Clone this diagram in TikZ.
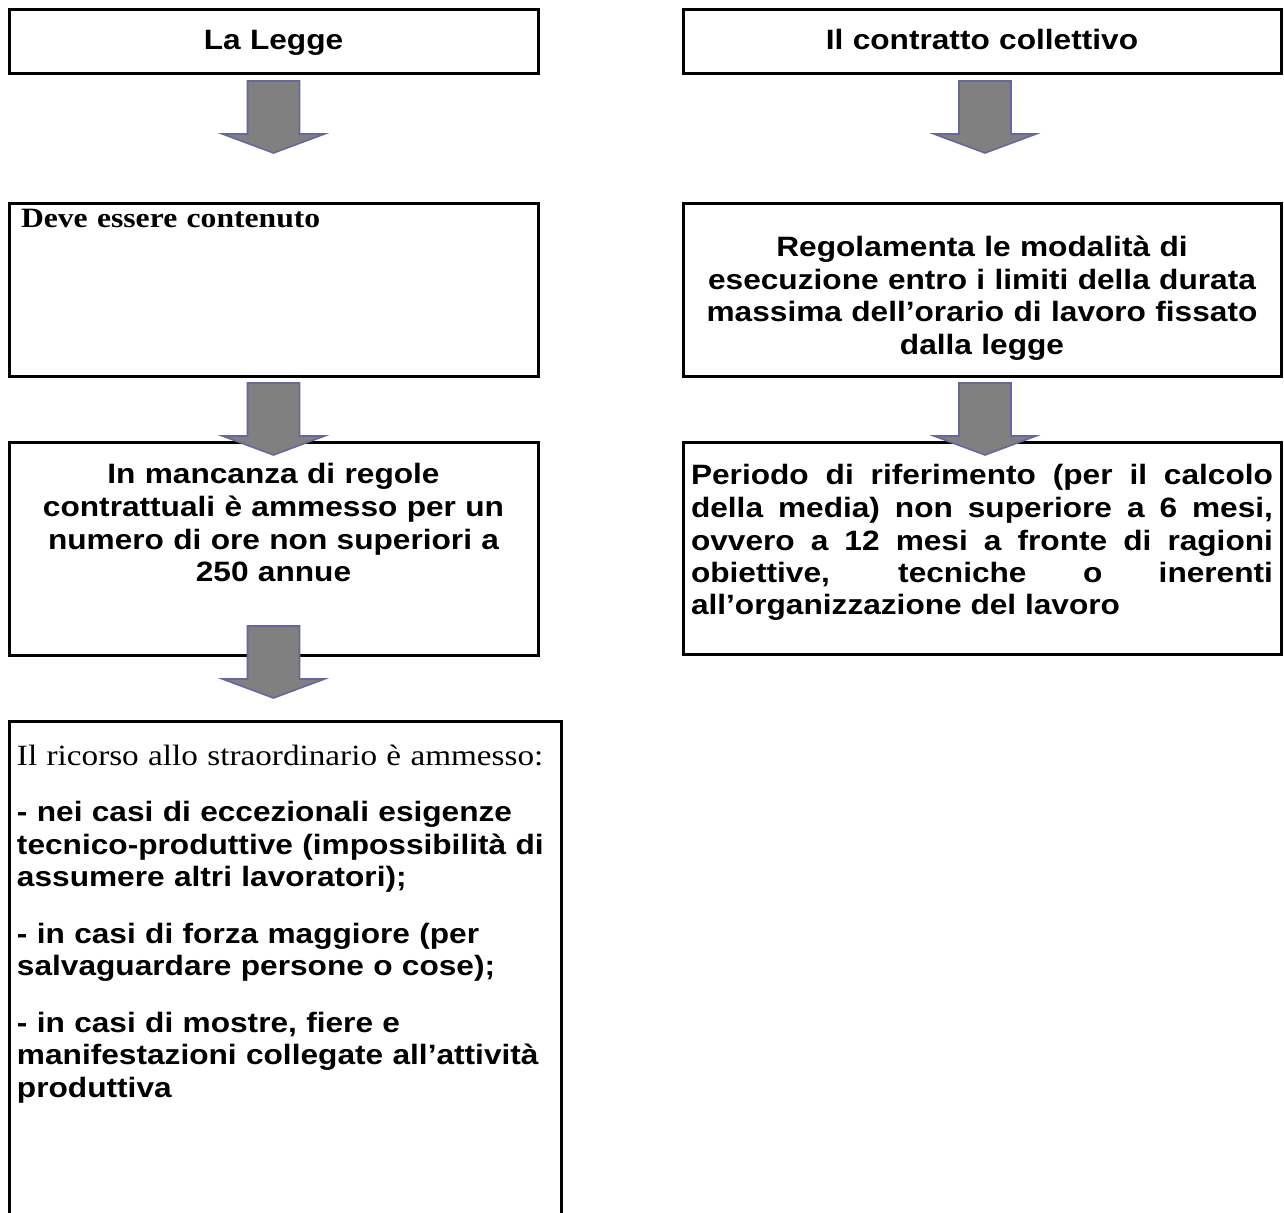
\documentclass[tikz,border=0pt]{standalone}
\usepackage{fontspec}
\setmainfont[FakeStretch=1.13]{Liberation Serif}
\setsansfont[FakeStretch=1.13]{Liberation Sans}
\usetikzlibrary{positioning}
\definecolor{arrowgray}{RGB}{128,128,128}
\definecolor{arrowline}{RGB}{102,102,160}
\tikzstyle{box} = [rectangle, draw, line width=1.5pt, anchor=north west, inner ysep=0pt,
    outer sep=0pt, font=\sffamily\bfseries\fontsize{14pt}{16.25pt}\selectfont]
\tikzstyle{bigarrow} = [draw=arrowline, fill=arrowgray, line width=0.8pt, line join=miter]

\begin{document}
\begin{tikzpicture}[x=1pt,y=1pt]
      \useasboundingbox (0,0) rectangle (642,-606.5);
      % colonna sinistra
      \node [box, minimum width=264.5pt, text width=256.5pt, inner xsep=4pt, align=center,
         text height=20pt, text depth=12pt] at (4.5,-5) (legge) {La Legge};
      \node [box, minimum width=264.5pt, text width=252.5pt, inner xsep=6pt, align=left,
         text height=12pt, text depth=74.5pt] at (4.5,-102) (contenuto) {\rmfamily Deve essere contenuto};
      \node [box, minimum width=264.5pt, text width=256.5pt, inner xsep=4pt, align=center,
         text height=20.5pt, text depth=85.5pt] at (4.5,-221.5) (mancanza) {In mancanza di regole\\
         contrattuali è ammesso per un\\ numero di ore non superiori a\\ 250 annue};
      \node [box, minimum width=276pt, text width=268pt, inner xsep=4pt, align=left,
         text height=22pt, text depth=233pt] at (4.5,-360.5) (ricorso) {{\rmfamily\mdseries\fontsize{14.7pt}{16.25pt}\selectfont Il ricorso allo straordinario è ammesso:}\\[12pt]
         - nei casi di eccezionali esigenze\\ tecnico-produttive (impossibilità di\\ assumere altri lavoratori);\\[12pt]
         - in casi di forza maggiore (per\\ salvaguardare persone o cose);\\[12pt]
         - in casi di mostre, fiere e\\ manifestazioni collegate all’attività\\ produttiva};

      % colonna destra
      \node [box, minimum width=299pt, text width=291pt, inner xsep=4pt, align=center,
         text height=20pt, text depth=12pt] at (341.5,-5) (contratto) {Il contratto collettivo};
      \node [box, minimum width=299pt, text width=291pt, inner xsep=4pt, align=center,
         text height=26.5pt, text depth=60pt] at (341.5,-102) (modalita) {Regolamenta le modalità di\\
         esecuzione entro i limiti della durata\\ massima dell’orario di lavoro fissato\\ dalla legge};
      \node [box, minimum width=299pt, text width=291pt, inner xsep=4pt, align=justify,
         text height=21pt, text depth=84.5pt] at (341.5,-221.5) (periodo) {Periodo di riferimento (per il calcolo\linebreak
         della media) non superiore a 6 mesi,\linebreak ovvero a 12 mesi a fronte di ragioni\linebreak
         obiettive, tecniche o inerenti\linebreak all’organizzazione del lavoro};

      \coordinate [below=3.5pt of legge] (f1);
      \coordinate [below=3pt of contenuto] (f2);
      \coordinate [below=-14.5pt of mancanza] (f3);
      \coordinate [below=3.5pt of contratto, xshift=1.5pt] (g1);
      \coordinate [below=3pt of modalita, xshift=1.5pt] (g2);

      \foreach \f in {f1,f2,f3,g1,g2}
         \draw [bigarrow] (\f) ++(-13,0) -- ++(26,0) -- ++(0,-26.5) -- ++(12.5,0)
            -- ++(-25.5,-9.5) -- ++(-25.5,9.5) -- ++(12.5,0) -- cycle;
\end{tikzpicture}
\end{document}
